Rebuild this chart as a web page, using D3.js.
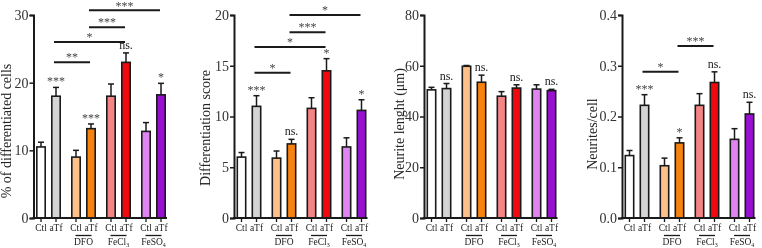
<!DOCTYPE html>
<html><head><meta charset="utf-8">
<script src="https://cdn.jsdelivr.net/npm/d3@7"></script>
</head><body style="margin:0;background:#fff">
<script>
const groups = ["Ctrl", "DFO", "FeCl3", "FeSO4"];
const treatments = ["Ctl", "aTf"];
const barColors = ["#ffffff", "#d4d4d4", "#fdc08a", "#f7820f", "#f58585", "#ee0a0f", "#df84f0", "#9a10d2"];

const diffCells = [10.5, 18.0, 9.0, 13.2, 18.0, 23.0, 12.8, 18.2];
const diffCellsErr = [0.7, 1.3, 1.0, 0.7, 1.8, 1.4, 1.3, 1.7];
const diffCellsTicks = [0, 10, 20, 30];
const diffCellsSig = ["", "***", "", "***", "", "ns.", "", "*"];
const diffCellsBrackets = [[1, 3, 23.0, "**"], [1, 5, 26.0, "*"], [3, 5, 28.2, "***"], [3, 7, 30.7, "***"]];

const diffScore = [6.0, 11.0, 5.9, 7.3, 10.8, 14.5, 7.0, 10.6];
const diffScoreErr = [0.45, 1.05, 0.7, 0.45, 1.05, 1.2, 0.9, 1.05];
const diffScoreTicks = [0, 5, 10, 15, 20];
const diffScoreSig = ["", "***", "", "ns.", "", "*", "", "*"];
const diffScoreBrackets = [[1, 3, 14.3, "*"], [1, 5, 16.85, "*"], [3, 5, 18.3, "***"], [3, 7, 20.0, "*"]];

const neuriteLen = [50.5, 51.0, 59.8, 53.5, 48.0, 51.2, 50.8, 50.2];
const neuriteLenErr = [1.0, 2.0, 0.3, 2.8, 1.8, 1.3, 1.7, 0.5];
const neuriteLenTicks = [0, 20, 40, 60, 80];
const neuriteLenSig = ["", "ns.", "", "ns.", "", "ns.", "", "ns."];
const neuriteLenBrackets = [];

const neuritesCell = [0.123, 0.222, 0.103, 0.148, 0.222, 0.267, 0.155, 0.205];
const neuritesCellErr = [0.010, 0.021, 0.015, 0.010, 0.023, 0.021, 0.021, 0.023];
const neuritesCellTicks = [0, 0.1, 0.2, 0.3, 0.4];
const neuritesCellSig = ["", "***", "", "*", "", "ns.", "", "ns."];
const neuritesCellBrackets = [[1, 3, 0.288, "*"], [3, 5, 0.339, "***"]];

const panels = [
  {ax: 33.5, max: 30, vals: diffCells, err: diffCellsErr, ticks: diffCellsTicks, fmt: d3.format("d"), sig: diffCellsSig, br: diffCellsBrackets, label: "% of differentiated cells", lx: 11, ly: 131},
  {ax: 234, max: 20, vals: diffScore, err: diffScoreErr, ticks: diffScoreTicks, fmt: d3.format("d"), sig: diffScoreSig, br: diffScoreBrackets, label: "Differentiation score", lx: 210, ly: 128},
  {ax: 424, max: 80, vals: neuriteLen, err: neuriteLenErr, ticks: neuriteLenTicks, fmt: d3.format("d"), sig: neuriteLenSig, br: neuriteLenBrackets, label: "Neurite lenght (\u03bcm)", lx: 404, ly: 124},
  {ax: 622, max: 0.4, vals: neuritesCell, err: neuritesCellErr, ticks: neuritesCellTicks, fmt: d3.format(".1f"), sig: neuritesCellSig, br: neuritesCellBrackets, label: "Neurites/cell", lx: 597, ly: 134}
];

const svg = d3.select("body").append("svg").attr("width", 762).attr("height", 248).style("display", "block");
const flt = svg.append("defs").append("filter").attr("id", "gray")
  .attr("x", "-50%").attr("y", "-60%").attr("width", "200%").attr("height", "220%");
flt.append("feColorMatrix").attr("type", "saturate").attr("values", 0);

const ink = "#1a1a1a";
const FONT = '"Liberation Serif", "Times New Roman", serif';
const txt = (sel, size) => sel.style("font-family", FONT).style("font-size", size + "px").style("fill", "#222").attr("filter", "url(#gray)");
const star = sel => sel.style("fill", "#444");

panels.forEach(p => {
  const g = svg.append("g");
  const y = d3.scaleLinear().domain([0, p.max]).range([218, 15]);
  const xg = d3.scaleBand().domain(groups).range([p.ax + 2.5, p.ax + 132.5]).paddingInner(2 / 7).paddingOuter(0);
  const xt = d3.scaleBand().domain(treatments).range([0, xg.bandwidth()]).paddingInner(1 / 3).paddingOuter(0);
  const bars = p.vals.map((v, i) => {
    const grp = groups[Math.floor(i / 2)], tr = treatments[i % 2];
    const x0 = xg(grp) + xt(tr);
    return {v, e: p.err[i], x0, cx: x0 + xt.bandwidth() / 2, w: xt.bandwidth(), c: barColors[i], tr, grp, s: p.sig[i]};
  });

  g.selectAll("rect.bar").data(bars).join("rect")
    .attr("x", d => d.x0 + 0.8).attr("width", d => d.w - 1.6)
    .attr("y", d => y(d.v)).attr("height", d => y(0) - y(d.v))
    .attr("fill", d => d.c).attr("stroke", ink).attr("stroke-width", 1.6);
  g.selectAll("line.err").data(bars).join("line")
    .attr("x1", d => d.cx).attr("x2", d => d.cx)
    .attr("y1", d => y(d.v)).attr("y2", d => y(d.v + d.e))
    .attr("stroke", ink).attr("stroke-width", 1.5);
  g.selectAll("line.cap").data(bars).join("line")
    .attr("x1", d => d.cx - 3).attr("x2", d => d.cx + 3)
    .attr("y1", d => y(d.v + d.e)).attr("y2", d => y(d.v + d.e))
    .attr("stroke", ink).attr("stroke-width", 1.5);
  const sigT = txt(g.selectAll("text.sig").data(bars.filter(d => d.s)).join("text")
    .attr("x", d => d.cx).attr("y", d => y(d.v + d.e) - (d.s === "ns." ? 4 : 2))
    .attr("text-anchor", "middle").text(d => d.s), 12);
  star(sigT.filter(d => d.s !== "ns."));

  const yAxis = d3.axisLeft(y).tickValues(p.ticks).tickFormat(p.fmt).tickSize(4).tickPadding(1);
  const ya = g.append("g").attr("transform", `translate(${p.ax},0)`).call(yAxis);
  ya.select(".domain").attr("stroke", ink).attr("stroke-width", 2);
  ya.selectAll(".tick line").attr("stroke", ink).attr("stroke-width", 1.5);
  txt(ya.selectAll(".tick text"), 14).style("fill", "#333");

  const last = bars[bars.length - 1];
  g.append("line").attr("x1", p.ax - 1).attr("x2", last.x0 + last.w + 1).attr("y1", y(0)).attr("y2", y(0))
    .attr("stroke", ink).attr("stroke-width", 2);
  g.selectAll("line.xt").data(bars).join("line")
    .attr("x1", d => d.cx).attr("x2", d => d.cx).attr("y1", y(0)).attr("y2", y(0) + 4)
    .attr("stroke", ink).attr("stroke-width", 1.3);
  txt(g.selectAll("text.xl").data(bars).join("text")
    .attr("x", d => d.cx).attr("y", 231).attr("text-anchor", "middle").text(d => d.tr), 9.5);

  groups.slice(1).forEach(gr => {
    const cx = xg(gr) + xg.bandwidth() / 2;
    g.append("line").attr("x1", cx - 8).attr("x2", cx + 8).attr("y1", 235.5).attr("y2", 235.5).attr("stroke", ink).attr("stroke-width", 1.3);
    const t = txt(g.append("text").attr("x", cx).attr("y", 245).attr("text-anchor", "middle"), 9.5);
    const sub = gr.match(/\d+$/);
    if (!sub) t.text(gr);
    else {
      t.append("tspan").text(gr.replace(/\d+$/, ""));
      t.append("tspan").style("font-size", "6px").attr("dy", 2).text(sub[0]);
    }
  });

  p.br.forEach(([a, b, v, lab]) => {
    const yy = y(v);
    g.append("line").attr("x1", bars[a].cx - 2).attr("x2", bars[b].cx - 1).attr("y1", yy).attr("y2", yy).attr("stroke", ink).attr("stroke-width", 2);
    star(txt(g.append("text").attr("x", (bars[a].cx + bars[b].cx) / 2 - 1.5).attr("y", Math.max(yy - 1, 10)).attr("text-anchor", "middle").text(lab), 12));
  });

  txt(svg.append("text").attr("transform", `translate(${p.lx},${p.ly}) rotate(-90)`).attr("text-anchor", "middle").text(p.label), 14);
});
</script>
</body></html>
